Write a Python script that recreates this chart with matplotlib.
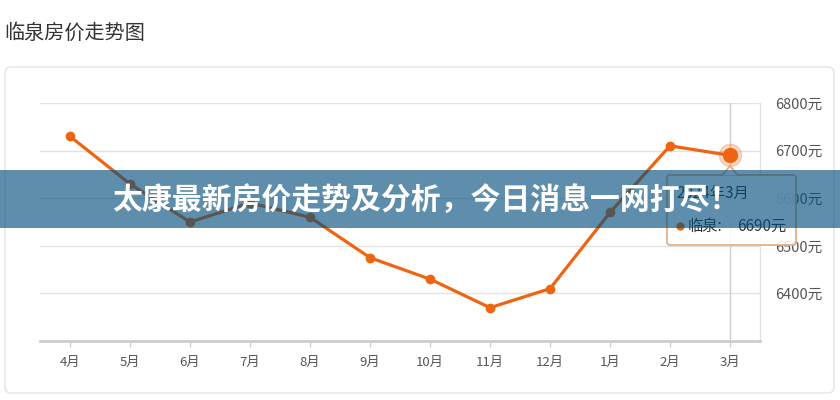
import matplotlib
matplotlib.use("Agg")
import matplotlib.pyplot as plt
from matplotlib.patches import Rectangle, FancyBboxPatch, Polygon
from matplotlib.lines import Line2D
from matplotlib.transforms import Affine2D

plt.rcParams['font.family'] = ['Noto Sans CJK SC', 'DejaVu Sans']

months = ["4月", "5月", "6月", "7月", "8月", "9月", "10月", "11月", "12月", "1月", "2月", "3月"]
prices = [6730, 6630, 6550, 6590, 6560, 6475, 6430, 6370, 6410, 6570, 6710, 6690]
yticks = [6400, 6500, 6600, 6700, 6800]
ytick_labels = [f"{v}元" for v in yticks]
title = "临泉房价走势图"
banner = "太康最新房价走势及分析，今日消息一网打尽！"
tip_date = "2024年3月"
tip_series = "临泉:"
tip_value = "6690元"

W, H = 840, 400
ORANGE = "#ee6411"
fig = plt.figure(figsize=(W / 100, H / 100), dpi=100)
fig.patch.set_facecolor("white")
px = Affine2D().scale(1 / W, -1 / H).translate(0, 1) + fig.transFigure

# card
card = FancyBboxPatch((5, 67), 829, 326, boxstyle="round,pad=0,rounding_size=6",
                      transform=px, facecolor="white", edgecolor="#e3e3e3", lw=1, zorder=-1)
fig.add_artist(card)
fig.text(4, 33, title, transform=px, fontsize=14.5, color="#333333", va="center", ha="left")

# main axes
left, right, top, bottom = 40, 760, 103, 341
ax = fig.add_axes([left / W, (H - bottom) / H, (right - left) / W, (bottom - top) / H])
ax.set_xlim(-0.5, len(months) - 0.5)
ax.set_ylim(6300, 6800)
x = list(range(len(months)))
ax.set_yticks(yticks)
ax.set_yticklabels(ytick_labels)
ax.yaxis.tick_right()
ax.tick_params(axis="y", length=0, pad=11, labelsize=10.5, labelcolor="#555555")
ax.set_xticks(x)
ax.set_xticklabels(months)
ax.tick_params(axis="x", length=4, width=1, color="#cccccc", pad=7, labelsize=9.5, labelcolor="#555555")
ax.grid(axis="y", color="#e2e2e2", lw=1)
ax.set_axisbelow(True)
for s in ["left", "top"]:
    ax.spines[s].set_visible(False)
ax.spines["bottom"].set_color("#cccccc")
ax.spines["bottom"].set_linewidth(2)
ax.spines["right"].set_color("#e2e2e2")
ax.spines["right"].set_linewidth(1)

# crosshair
ax.axvline(x[-1], color="#cccccc", lw=1, zorder=1)
ax.plot(x, prices, color=ORANGE, lw=2.3, marker="o", markersize=6, zorder=3, clip_on=False)
ax.plot([x[-1]], [prices[-1]], marker="o", markersize=16, color=ORANGE, alpha=0.25, zorder=4, clip_on=False)
ax.plot([x[-1]], [prices[-1]], marker="o", markersize=10, color=ORANGE, zorder=5, clip_on=False)

# tooltip
tx0, ty0, tx1, ty1 = 667, 175, 796, 245
tip = FancyBboxPatch((tx0, ty0), tx1 - tx0, ty1 - ty0, boxstyle="round,pad=0,rounding_size=3",
                     transform=px, facecolor=(1, 1, 1, 0.85), edgecolor="#e8a878", lw=1.2, zorder=3)
fig.add_artist(tip)
arrow = Polygon([(722, 175.5), (730, 166), (738, 175.5)], closed=False, transform=px,
                facecolor=(1, 1, 1, 0.9), edgecolor="#e8a878", lw=1.2, zorder=3)
fig.add_artist(arrow)
fig.text(676, 193, tip_date, transform=px, fontsize=11, color="#333333", va="center", zorder=3.5)
fig.add_artist(Line2D([680], [226], transform=px, marker="o", markersize=5, color=ORANGE, zorder=3.5))
fig.text(688, 226, tip_series, transform=px, fontsize=11, color="#333333", va="center", zorder=3.5)
fig.text(737, 226, tip_value, transform=px, fontsize=11, color="#333333", va="center", zorder=3.5)

# banner
fig.add_artist(Rectangle((0, 170), W, 58, transform=px, facecolor=(0.0, 0.30, 0.48, 0.63),
                         edgecolor="none", zorder=5))
fig.text(426, 200, banner, transform=px, fontsize=21.5, fontweight="bold", color="white",
         ha="center", va="center", zorder=6)

fig.savefig("out.png", dpi=100)
